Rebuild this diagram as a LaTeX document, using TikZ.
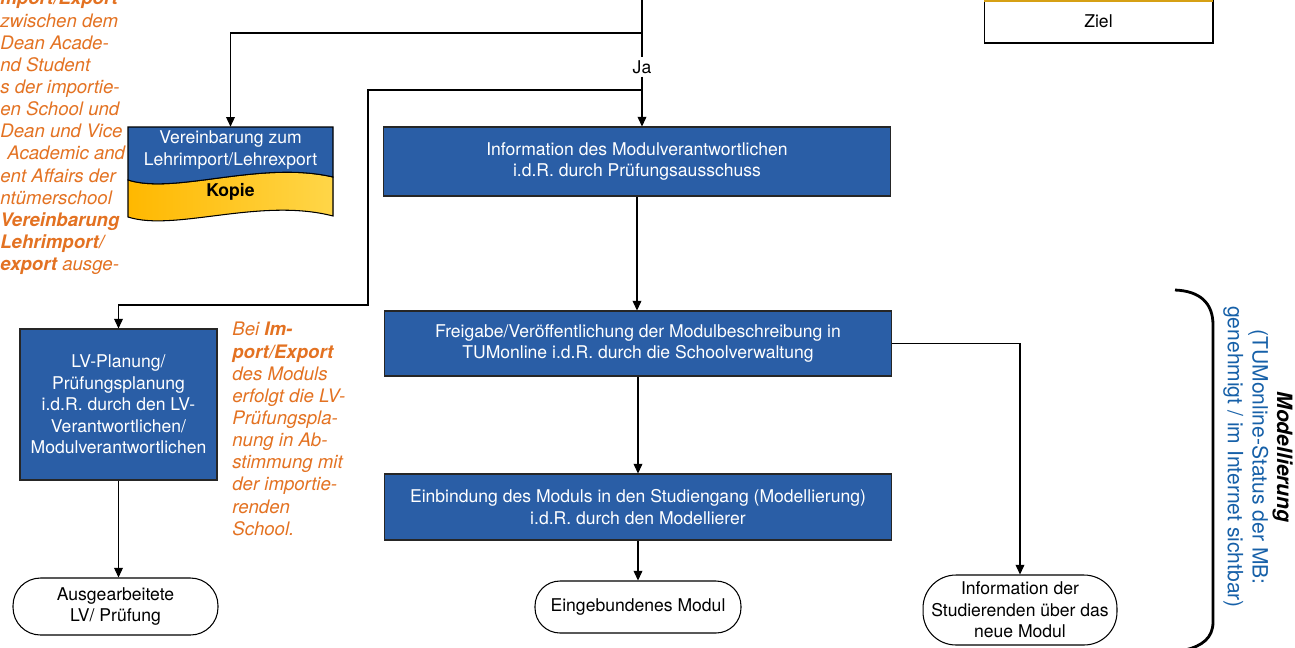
\documentclass[tikz,border=0pt]{standalone}
\usepackage{fontspec}
\setmainfont{TeX Gyre Heros}
\usepackage{tikz}
\usetikzlibrary{calc,arrows.meta}

\definecolor{tumblau}{RGB}{42,94,166}
\definecolor{tumorange}{RGB}{227,114,34}
\definecolor{schriftblau}{RGB}{22,96,168}
\definecolor{gelbL}{RGB}{255,184,0}
\definecolor{gelbR}{RGB}{255,214,72}
\definecolor{goldrand}{RGB}{214,160,20}

\tikzset{
  prozess/.style={rectangle, draw=black!85, line width=0.6pt, fill=tumblau, text=white, align=center, font=\fontsize{10}{12.2}\selectfont},
  ende/.style={rectangle, draw=black, line width=0.6pt, fill=white, align=center, inner sep=1pt, font=\fontsize{10}{12.2}\selectfont},
  pfeil/.style={-{Triangle[length=5.5pt,width=5pt]}, line width=0.6pt},
  linie/.style={line width=0.6pt},
  notiz/.style={text=tumorange, align=left, inner sep=0pt, font=\fontsize{10.6}{12.6}\selectfont\itshape},
}

\begin{document}
\begin{tikzpicture}[x=0.02cm,y=-0.02cm]
			\useasboundingbox (0,0) rectangle (1295,647);
			
			\node[draw=black, line width=0.6pt, fill=white, minimum width=4.58cm, minimum height=0.88cm, font=\fontsize{10}{12.2}\selectfont] (ziel) at (1098.5,21) {Ziel};
			\draw[goldrand, line width=1.6pt] (984,0.5) -- (1213,0.5);
			
			\node[prozess, minimum width=10.16cm, minimum height=1.38cm] (info) at (637,161.5) {Information des Modulverantwortlichen\\i.d.R. durch Prüfungsausschuss};
			\node[prozess, minimum width=10.16cm, minimum height=1.3cm] (frei) at (638,343.5) {Freigabe/Veröffentlichung der Modulbeschreibung in\\TUMonline i.d.R. durch die Schoolverwaltung};
			\node[prozess, minimum width=10.16cm, minimum height=1.32cm] (einb) at (638,507) {Einbindung des Moduls in den Studiengang (Modellierung)\\i.d.R. durch den Modellierer};
			\node[prozess, minimum width=3.94cm, minimum height=3.02cm] (lv) at (118.5,404.5) {LV-Planung/\\Prüfungsplanung\\i.d.R. durch den LV-\\Verantwortlichen/\\Modulverantwortlichen};
			
			\node[ende, rounded corners=0.55cm, minimum width=4.1cm, minimum height=1.14cm] (ausg) at (115.5,606.5) {Ausgearbeitete\\LV/ Prüfung};
			\node[ende, rounded corners=0.5cm, minimum width=4.12cm, minimum height=1.04cm] (eingeb) at (638,607) {Eingebundenes Modul};
			\node[ende, rounded corners=0.66cm, minimum width=3.88cm, minimum height=1.4cm] (studinfo) at (1020,610) {Information der\\Studierenden über das\\neue Modul};
			
			\node[minimum width=4.1cm, minimum height=1.92cm, inner sep=0pt] (vereinb) at (230.5,175) {};
			\filldraw[draw=black, line width=0.6pt, left color=gelbL, right color=gelbR] (128,180) .. controls (175,195) and (260,160) .. (333,177) -- (333,216) .. controls (260,197) and (175,232) .. (128,217) -- cycle;
			\filldraw[draw=black, line width=0.6pt, fill=tumblau] (128,127) -- (333,127) -- (333,177) .. controls (260,160) and (175,195) .. (128,180) -- cycle;
			\node[text=white, align=center, font=\fontsize{10}{12.6}\selectfont] (vtext) at (230.5,150) {Vereinbarung zum\\Lehrimport/Lehrexport};
			\node[font=\fontsize{10}{12.2}\selectfont\bfseries] (kopie) at (230.5,192) {Kopie};
			
			\coordinate (oben) at (642,0);
			\node[font=\fontsize{10}{12.2}\selectfont, inner sep=1.5pt] (ja) at (642,67) {Ja};
			\draw[linie] (oben) -- (ja.north);
			\draw[pfeil] (ja.south) -- (ja.south |- info.north);
			\coordinate (abzw1) at (642,33);
			\draw[pfeil] (abzw1) -| (vereinb.north);
			\coordinate (abzw2) at (642,90);
			\coordinate (knick) at (368,305);
			\draw[pfeil] (abzw2) -| (knick) -| (lv.north);
			
			\draw[pfeil] (info.south) -- (info.south |- frei.north);
			\draw[pfeil] (frei.south) -- (frei.south |- einb.north);
			\draw[pfeil] (einb.south) -- (einb.south |- eingeb.north);
			\draw[pfeil] (frei.east) -| (studinfo.north);
			\draw[pfeil] (lv.south) -- (lv.south |- ausg.north);
			
			\node[notiz, anchor=north west] (notizlinks) at (0,-9) {\textbf{mport/Export}\\zwischen dem\\Dean Acade-\\nd Student\\s der importie-\\en School und\\Dean und Vice\\\hspace*{4pt}Academic and\\ent Affairs der\\ntümerschool\\\textbf{Vereinbarung}\\\textbf{Lehrimport/}\\\textbf{export} ausge-};
			\node[notiz, anchor=north west] (notizrechts) at (232,322) {Bei \textbf{Im-}\\\textbf{port/Export}\\des Moduls\\erfolgt die LV-\\Prüfungspla-\\nung in Ab-\\stimmung mit\\der importie-\\renden\\School.};
			
			\draw[line width=1.6pt] (1175,290) .. controls (1200,291) and (1213,303) .. (1213,325) -- (1213,622) .. controls (1213,638) and (1202,646) .. (1185,650);
			\node[rotate=-90, align=center, font=\fontsize{12}{14}\selectfont] (modell) at (1258,457) {\textbf{\textit{Modellierung}}\\\textcolor{schriftblau}{(TUMonline-Status der MB:}\\\textcolor{schriftblau}{genehmigt / im Internet sichtbar)}};
		\end{tikzpicture}
\end{document}
